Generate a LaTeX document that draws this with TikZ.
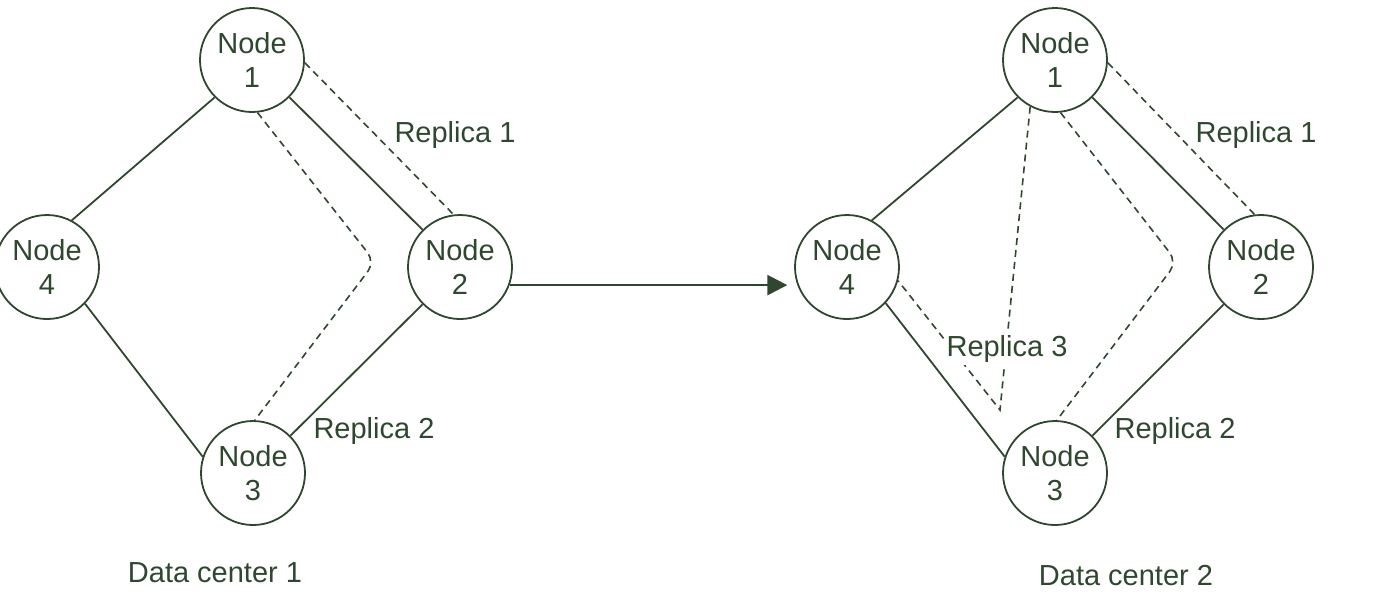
\documentclass[tikz,border=0pt]{standalone}
\usepackage{fontspec}
\setmainfont{Liberation Sans}
\usetikzlibrary{arrows.meta}
\definecolor{ink}{HTML}{2F472F}
\begin{document}
\begin{tikzpicture}[x=0.5pt,y=-0.5pt,
  nd/.style={draw=ink,circle,line width=0.9pt,minimum size=52pt,inner sep=0pt,
    align=center,text=ink,font=\fontsize{14.5}{17}\selectfont},
  lbl/.style={text=ink,font=\fontsize{14.5}{17}\selectfont,inner sep=1pt},
  link/.style={draw=ink,line width=0.9pt},
  repl/.style={draw=ink,line width=0.8pt,dash pattern=on 3.5pt off 2.5pt},
  flow/.style={draw=ink,line width=1.3pt,-{Triangle[length=10pt,width=10pt]}}]
\useasboundingbox (0,0) rectangle (1386,602);
% left data center
\node[nd] (l1) at (252,60) {Node\\1};
\node[nd] (l4) at (47,267) {Node\\4};
\node[nd] (l2) at (460,267) {Node\\2};
\node[nd] (l3) at (253,473) {Node\\3};
\draw[link] (l1.-135) -- (l4.62);
\draw[link] (l1) -- (l2);
\draw[link] (l2) -- (l3);
\draw[link] (l4.-44) -- (l3.162);
\coordinate (lbend) at (375,262);
\draw[repl] (l1.-3) -- (l2.97);
\draw[repl,rounded corners=6pt] (l1.-84) -- (lbend) -- (l3.88);
\node[lbl] (lr1) at (455,135) {Replica 1};
\node[lbl] (lr2) at (374,431) {Replica 2};
\node[lbl] (ldc) at (215,573) {Data center 1};
% right data center
\node[nd] (r1) at (1055,60) {Node\\1};
\node[nd] (r4) at (847,267) {Node\\4};
\node[nd] (r2) at (1261,267) {Node\\2};
\node[nd] (r3) at (1055,473) {Node\\3};
\draw[link] (r1.-135) -- (r4.62);
\draw[link] (r1) -- (r2);
\draw[link] (r2) -- (r3);
\draw[link] (r4.-43) -- (r3.162);
\coordinate (rbend) at (1177,262);
\coordinate (rapex) at (1000,410);
\draw[repl] (r1.-3) -- (r2.97);
\draw[repl,rounded corners=6pt] (r1.-84) -- (rbend) -- (r3.88);
\draw[repl] (r1.-118) -- (rapex) -- (r4.-15);
\node[lbl,fill=white] (rr3) at (1007,349) {Replica 3};
\node[lbl] (rr1) at (1256,135) {Replica 1};
\node[lbl] (rr2) at (1175,431) {Replica 2};
\node[lbl] (rdc) at (1126,575) {Data center 2};
% transition arrow
\draw[flow] (l2.-20) -- ([xshift=-5pt]r4.200);
\end{tikzpicture}
\end{document}
